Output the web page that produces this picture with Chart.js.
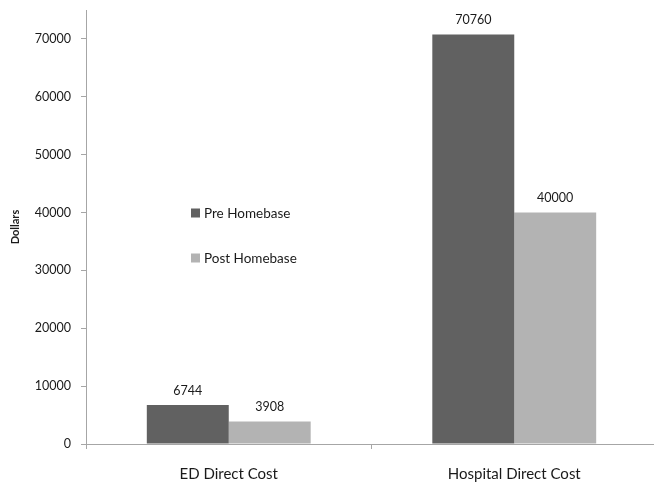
<!DOCTYPE html>
<html>
<head>
<meta charset="utf-8">
<script src="https://cdn.jsdelivr.net/npm/chart.js@4.4.1/dist/chart.umd.min.js"></script>
<style>
  html, body { margin: 0; padding: 0; background: #fff; overflow: hidden; }
  #wrap { width: 657px; height: 484px; }
</style>
</head>
<body>
<div id="wrap"><canvas id="c" width="657" height="484"></canvas></div>
<script>
// Direct cost per patient, before and after the Homebase programme
const categories = ['ED Direct Cost', 'Hospital Direct Cost'];
const preHomebase = [6744, 70760];
const postHomebase = [3908, 40000];
const seriesNames = ['Pre Homebase', 'Post Homebase'];
const yTickValues = [0, 10000, 20000, 30000, 40000, 50000, 60000, 70000];

const FONT = 'Lato, "Open Sans", sans-serif';
const AXIS_GREY = '#a6a6a6';

// Value labels above each bar
const valueLabels = {
  id: 'valueLabels',
  afterDatasetsDraw(chart) {
    const ctx = chart.ctx;
    ctx.save();
    ctx.font = '12.5px ' + FONT;
    ctx.fillStyle = '#1a1a1a';
    ctx.textAlign = 'center';
    ctx.textBaseline = 'bottom';
    chart.data.datasets.forEach((ds, i) => {
      chart.getDatasetMeta(i).data.forEach((bar, j) => {
        ctx.fillText(String(ds.data[j]), bar.x, bar.y - 8);
      });
    });
    ctx.restore();
  }
};

// Legend drawn inside the plot area
const innerLegend = {
  id: 'innerLegend',
  afterDraw(chart) {
    const ctx = chart.ctx;
    ctx.save();
    ctx.font = '13.5px ' + FONT;
    ctx.textBaseline = 'middle';
    ctx.textAlign = 'left';
    const x = 191, ys = [213, 258];
    chart.data.datasets.forEach((ds, i) => {
      ctx.fillStyle = ds.backgroundColor;
      ctx.fillRect(x, ys[i] - 4.5, 9, 9);
      ctx.fillStyle = '#1a1a1a';
      ctx.fillText(ds.label, x + 13, ys[i] + 0.5);
    });
    ctx.restore();
  }
};

new Chart(document.getElementById('c'), {
  type: 'bar',
  data: {
    labels: categories,
    datasets: [
      { label: seriesNames[0], data: preHomebase, backgroundColor: '#616161' },
      { label: seriesNames[1], data: postHomebase, backgroundColor: '#b3b3b3' }
    ]
  },
  options: {
    responsive: false,
    animation: false,
    events: [],
    layout: { padding: { top: 10, left: 0, right: 0, bottom: 0 } },
    datasets: { bar: { barPercentage: 1.0, categoryPercentage: 0.574 } },
    plugins: { legend: { display: false }, tooltip: { enabled: false } },
    scales: {
      x: {
        grid: { display: true, drawOnChartArea: false, drawTicks: true, tickLength: 5, color: AXIS_GREY, offset: true },
        border: { display: true, color: AXIS_GREY, width: 1 },
        ticks: { color: '#1a1a1a', font: { family: FONT, size: 15 }, padding: 16 },
        afterFit(scale) { scale.height = 40; }
      },
      y: {
        min: 0,
        max: 75000,
        afterBuildTicks(scale) { scale.ticks = yTickValues.map(v => ({ value: v })); },
        grid: { display: true, drawOnChartArea: false, drawTicks: true, tickLength: 5, color: AXIS_GREY },
        border: { display: true, color: AXIS_GREY, width: 1 },
        ticks: { color: '#1a1a1a', font: { family: FONT, size: 12.5 }, padding: 10, autoSkip: false,
                 callback: v => String(v) },
        title: { display: true, text: 'Dollars', color: '#1a1a1a', font: { family: FONT, size: 11, weight: 'bold' }, padding: { top: 9, bottom: 0 } },
        afterFit(scale) {
          scale.width = 86;
          scale.paddingTop = 0;
          scale.paddingBottom = 0;
        }
      }
    }
  },
  plugins: [valueLabels, innerLegend]
});
</script>
</body>
</html>
